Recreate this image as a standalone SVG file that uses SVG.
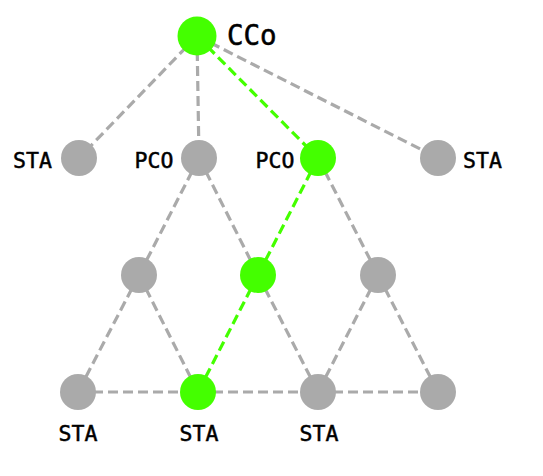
<svg xmlns="http://www.w3.org/2000/svg" width="543" height="476" viewBox="0 0 543 476">
<style>
.e{fill:none;stroke:#aaaaaa;stroke-width:3.2;stroke-dasharray:10 5}
.g{stroke:#44ff00}
.n{fill:#aaaaaa}
.a{fill:#44ff00}
text{font-family:"DejaVu Sans Mono","Liberation Mono",monospace;font-size:21.5px;fill:#000;stroke:#000;stroke-width:0.5}
</style>
<rect width="543" height="476" fill="#fff"/>
<g id="connectors">
<line class="e" x1="197" y1="36" x2="79" y2="158"/>
<line class="e" x1="197" y1="36" x2="199" y2="158"/>
<line class="e" x1="197" y1="36" x2="438" y2="158"/>
<line class="e" x1="199" y1="158" x2="139" y2="275"/>
<line class="e" x1="199" y1="158" x2="258" y2="275"/>
<line class="e" x1="318" y1="158" x2="378" y2="275"/>
<line class="e" x1="139" y1="275" x2="78" y2="392"/>
<line class="e" x1="139" y1="275" x2="198" y2="392"/>
<line class="e" x1="258" y1="275" x2="318" y2="392"/>
<line class="e" x1="378" y1="275" x2="318" y2="392"/>
<line class="e" x1="378" y1="275" x2="438" y2="392"/>
<line class="e" x1="78" y1="392" x2="438" y2="392"/>
<line class="e g" x1="197" y1="36" x2="318" y2="158"/>
<line class="e g" x1="318" y1="158" x2="258" y2="275"/>
<line class="e g" x1="258" y1="275" x2="198" y2="392"/>
</g>
<g id="cco"><circle class="a" cx="197" cy="36" r="19.5"/><text x="227" y="45" style="font-size:27.5px">CCo</text></g>
<g id="sta-l"><circle class="n" cx="79" cy="158" r="18"/><text x="32.5" y="168" text-anchor="middle">STA</text></g>
<g id="pco-1"><circle class="n" cx="199" cy="158" r="18"/><text x="154" y="168" text-anchor="middle">PCO</text></g>
<g id="pco-2"><circle class="a" cx="318" cy="158" r="18"/><text x="275" y="168" text-anchor="middle">PCO</text></g>
<g id="sta-r"><circle class="n" cx="438" cy="158" r="18"/><text x="482.5" y="168" text-anchor="middle">STA</text></g>
<g id="m1"><circle class="n" cx="139" cy="275" r="18"/></g>
<g id="m2"><circle class="a" cx="258" cy="275" r="18"/></g>
<g id="m3"><circle class="n" cx="378" cy="275" r="18"/></g>
<g id="b1"><circle class="n" cx="78" cy="392" r="18"/><text x="78" y="441" text-anchor="middle">STA</text></g>
<g id="b2"><circle class="a" cx="198" cy="392" r="18"/><text x="199" y="441" text-anchor="middle">STA</text></g>
<g id="b3"><circle class="n" cx="318" cy="392" r="18"/><text x="319" y="441" text-anchor="middle">STA</text></g>
<g id="b4"><circle class="n" cx="438" cy="392" r="18"/></g>
</svg>
